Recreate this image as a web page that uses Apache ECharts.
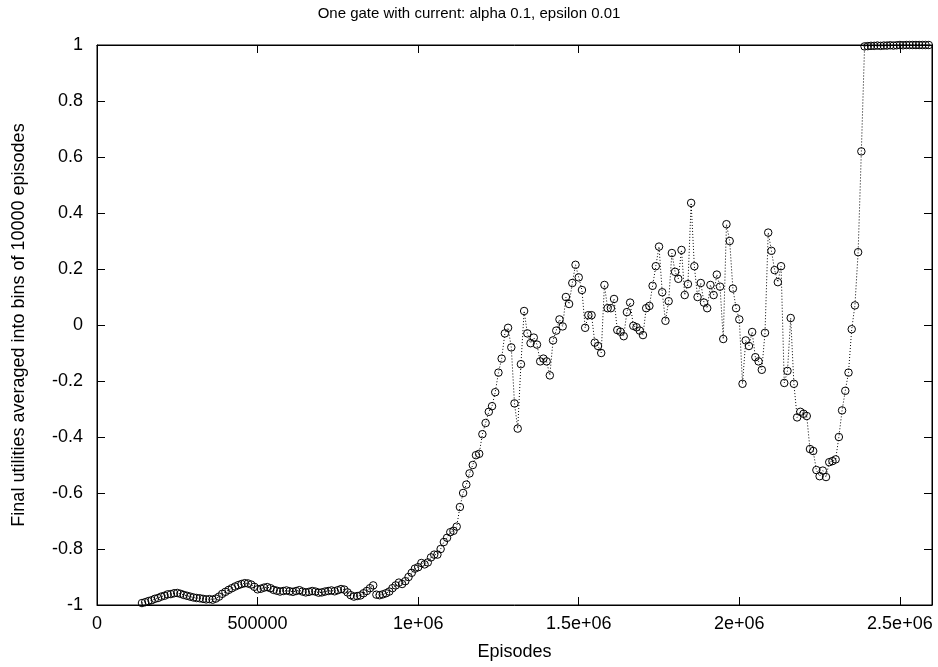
<!DOCTYPE HTML>
<html>
<head>
<meta charset="utf-8">
<title>One gate with current</title>
<script src="https://cdn.jsdelivr.net/npm/echarts@6/dist/echarts.min.js"></script>
<style>
html, body { margin:0; padding:0; background:#fff; }
#main { width:938px; height:667px; }
</style>
</head>
<body>
<div id="main"></div>
<script type="text/javascript">
// bins of 10000 episodes, first bin at 140000
var startEpisode = 140000;
var binSize = 10000;

// averaged final utility per bin
var utility = [
	-0.993, -0.99, -0.986, -0.983, -0.978, -0.975, -0.97, -0.967, -0.962, -0.961,
	-0.958, -0.957, -0.96, -0.964, -0.967, -0.97, -0.973, -0.975, -0.976, -0.978,
	-0.98, -0.979, -0.981, -0.977, -0.97, -0.96, -0.953, -0.946, -0.94, -0.934,
	-0.929, -0.925, -0.922, -0.923, -0.927, -0.935, -0.944, -0.942, -0.938, -0.936,
	-0.94, -0.946, -0.949, -0.952, -0.95, -0.948, -0.951, -0.953, -0.95, -0.947,
	-0.952, -0.955, -0.953, -0.95, -0.952, -0.956, -0.955, -0.952, -0.95, -0.948,
	-0.951, -0.947, -0.943, -0.945, -0.955, -0.965, -0.97, -0.968, -0.966, -0.958,
	-0.95, -0.94, -0.93, -0.963, -0.965, -0.962, -0.958, -0.952, -0.94, -0.93,
	-0.92, -0.925, -0.915, -0.9, -0.885, -0.87, -0.865, -0.85, -0.855, -0.848,
	-0.83, -0.82, -0.82, -0.80, -0.775, -0.76, -0.74, -0.735, -0.72, -0.65,
	-0.60, -0.57, -0.53, -0.50, -0.465, -0.46, -0.39, -0.35, -0.31, -0.29,
	-0.24, -0.17, -0.12, -0.03, -0.01, -0.08, -0.28, -0.37, -0.14, 0.05,
	-0.03, -0.065, -0.045, -0.07, -0.13, -0.12, -0.13, -0.18, -0.055, -0.02,
	0.02, -0.005, 0.10, 0.075, 0.15, 0.215, 0.17, 0.125, -0.01, 0.035,
	0.035, -0.063, -0.075, -0.1, 0.143, 0.06, 0.06, 0.093, -0.018, -0.024,
	-0.04, 0.046, 0.08, -0.003, -0.008, -0.02, -0.036, 0.06, 0.068, 0.14,
	0.21, 0.28, 0.117, 0.015, 0.085, 0.257, 0.19, 0.165, 0.268, 0.107,
	0.146, 0.436, 0.21, 0.10, 0.15, 0.08, 0.06, 0.143, 0.107, 0.18,
	0.137, -0.05, 0.36, 0.30, 0.13, 0.06, 0.02, -0.21, -0.055, -0.075,
	-0.025, -0.115, -0.13, -0.16, -0.028, 0.33, 0.265, 0.196, 0.153, 0.21,
	-0.207, -0.164, 0.025, -0.21, -0.33, -0.31, -0.317, -0.325, -0.443, -0.45,
	-0.518, -0.54, -0.52, -0.543, -0.49, -0.486, -0.48, -0.40, -0.305, -0.235,
	-0.17, -0.015, 0.07, 0.26, 0.62, 0.995, 0.996, 0.997, 0.997, 0.998,
	0.997, 0.998, 0.998, 0.999, 0.998, 0.999, 1.0, 0.999, 1.0, 1.0,
	1.0, 1.0, 1.0, 1.0, 1.0, 1.0
];

var xTickLabels = ['0', '500000', '1e+06', '1.5e+06', '2e+06', '2.5e+06'];
var yTickLabels = ['-1', '-0.8', '-0.6', '-0.4', '-0.2', '0', '0.2', '0.4', '0.6', '0.8', '1'];

var points = [];
for (var i = 0; i < utility.length; i++) {
	points.push([startEpisode + i * binSize, utility[i]]);
}

var labelFont = {color:'#000', fontFamily:'Liberation Sans', fontSize:18};

function xLabel(v) {
	var n = Math.round(v / 500000);
	return (n * 500000 == v && xTickLabels[n] != null) ? xTickLabels[n] : '';
}
function yLabel(v) {
	var n = Math.round((v + 1) / 0.2);
	return yTickLabels[n] != null ? yTickLabels[n] : '';
}

var tickStyle = {show:true, inside:true, length:8, lineStyle:{color:'#000', width:1}};
var lineStyleBlack = {show:true, onZero:false, lineStyle:{color:'#000', width:1}};

var myChart = echarts.init(document.getElementById('main'), null, {renderer:'canvas'});
myChart.setOption({
	animation: false,
	backgroundColor: '#fff',
	title: {
		text: 'One gate with current: alpha 0.1, epsilon 0.01',
		left: 'center',
		top: 1,
		textStyle: {color:'#000', fontFamily:'Liberation Sans', fontSize:15, fontWeight:'normal'}
	},
	grid: {left:97, right:6, top:45, bottom:62, show:true, borderColor:'#000', borderWidth:1, backgroundColor:'transparent'},
	xAxis: [{
		type: 'value', min: 0, max: 2600000, interval: 500000, position: 'bottom',
		name: 'Episodes', nameLocation: 'middle', nameGap: 38,
		nameTextStyle: labelFont,
		axisLine: lineStyleBlack,
		axisTick: tickStyle,
		splitLine: {show:false},
		axisLabel: {show:true, margin:10, formatter:xLabel, color:'#000', fontFamily:'Liberation Sans', fontSize:18, showMaxLabel:false}
	}, {
		type: 'value', min: 0, max: 2600000, interval: 500000, position: 'top',
		axisLine: lineStyleBlack,
		axisTick: tickStyle,
		splitLine: {show:false},
		axisLabel: {show:false}
	}],
	yAxis: [{
		type: 'value', min: -1, max: 1, interval: 0.2, position: 'left',
		name: 'Final utilities averaged into bins of 10000 episodes',
		nameLocation: 'middle', nameGap: 69, nameRotate: 90,
		nameTextStyle: labelFont,
		axisLine: lineStyleBlack,
		axisTick: tickStyle,
		splitLine: {show:false},
		axisLabel: {show:true, margin:14, formatter:yLabel, color:'#000', fontFamily:'Liberation Sans', fontSize:18}
	}, {
		type: 'value', min: -1, max: 1, interval: 0.2, position: 'right',
		axisLine: lineStyleBlack,
		axisTick: tickStyle,
		splitLine: {show:false},
		axisLabel: {show:false}
	}],
	series: [{
		type: 'line',
		xAxisIndex: 0,
		yAxisIndex: 0,
		data: points,
		clip: false,
		showSymbol: true,
		symbol: 'circle',
		symbolSize: 7.5,
		itemStyle: {color:'rgba(0,0,0,0)', borderColor:'#000', borderWidth:1},
		lineStyle: {color:'#000', width:1, type:[1, 2]},
		emphasis: {disabled:true}
	}]
});
</script>
</body>
</html>
